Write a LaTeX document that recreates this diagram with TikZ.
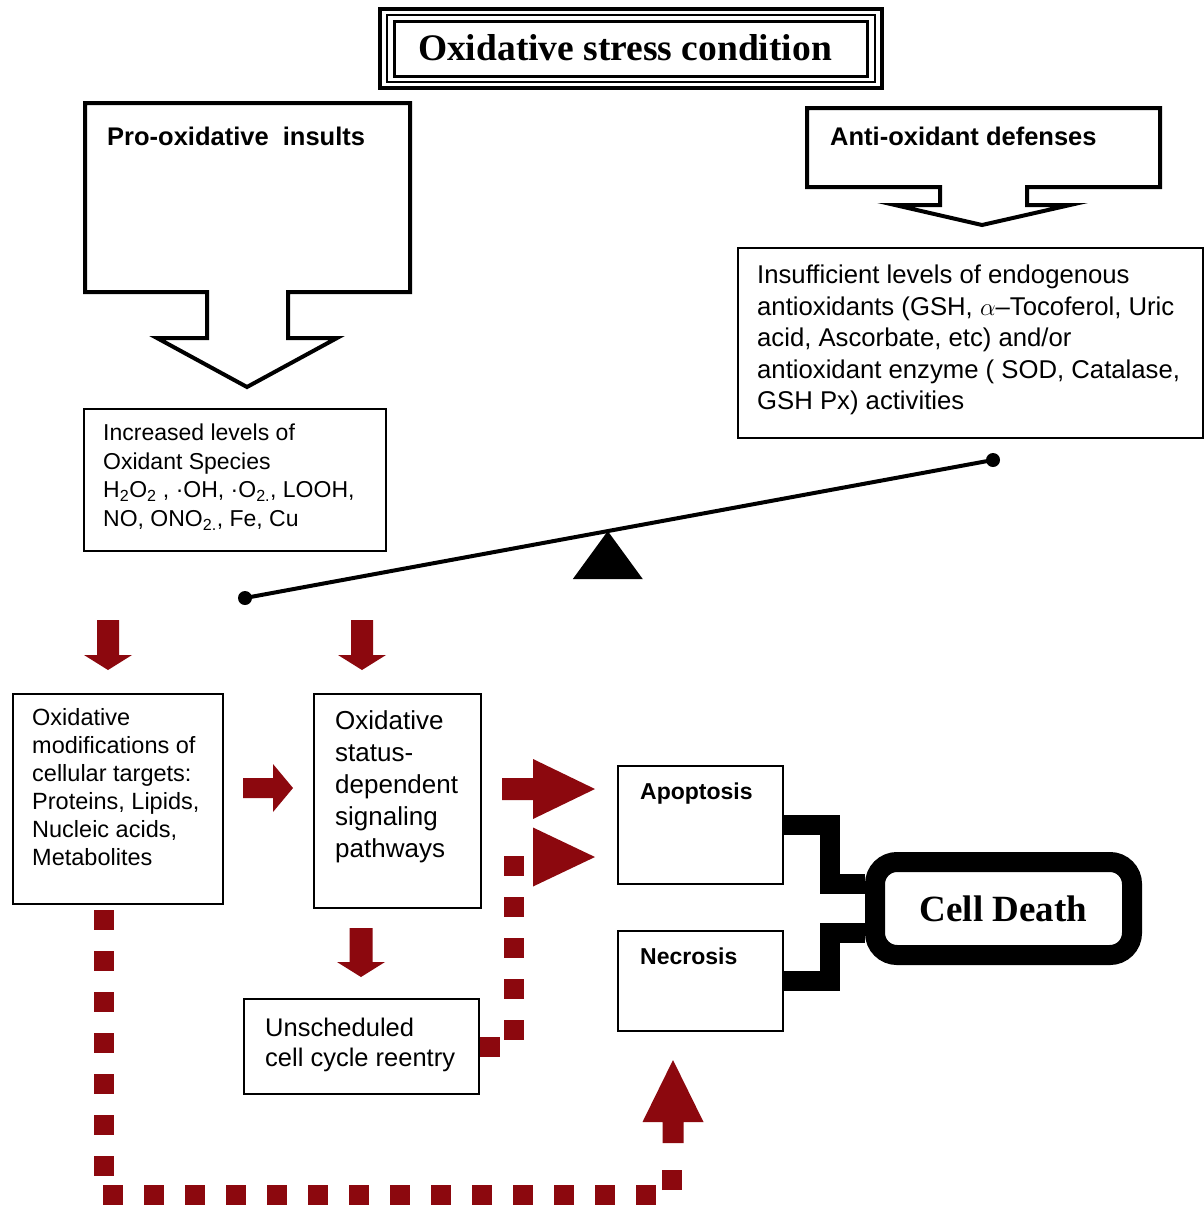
\documentclass[tikz,border=0pt]{standalone}
\usepackage{fontspec}
\setmainfont{Liberation Sans}
\newfontfamily\serifbf{Liberation Serif}
\usepackage{tikz}
\usetikzlibrary{positioning, calc}
\definecolor{arrowred}{RGB}{140,8,14}
\tikzstyle{box} = [draw, line width=2pt, rectangle, anchor=north west, inner sep=0pt]
\tikzstyle{txt} = [inner sep=0pt, anchor=north west, align=left]
\tikzstyle{callout} = [draw, line width=4pt, line join=miter]
\tikzstyle{reddash} = [draw=arrowred, line width=20pt, dash pattern=on 20pt off 21pt]
\tikzstyle{bracket} = [draw, line width=20pt]
\newcommand{\fs}[2]{\fontsize{#1}{#2}\selectfont}
% tail point, angle, length, head length, shaft half width, head half width
\newcommand{\blockarrow}[6]{%
  \fill[arrowred, shift={#1}, rotate=#2] (0,-#5) -- ({#3-#4},-#5) -- ({#3-#4},-#6)
    -- (#3,0) -- ({#3-#4},#6) -- ({#3-#4},#5) -- (0,#5) -- cycle;}

\begin{document}
\begin{tikzpicture}[x=1pt,y=-1pt,>=latex]
  \fill[white] (0,0) rectangle (1203,1205);
  \useasboundingbox (0,0) rectangle (1203,1205);

  % title
  \node[font=\serifbf\bfseries\fs{37.5}{40}] (title) at (625,48) {Oxidative stress condition};
  \draw[line width=4pt] (380,9) rectangle (882,88);
  \draw[line width=1.5pt] (387,15) rectangle (875,82);
  \draw[line width=3pt] (394,21) rectangle (867,76);

  % the two callouts
  \draw[callout] (85,103) -- (410,103) -- (410,292) -- (288,292) -- (288,338) -- (337,338)
    -- (247,387) -- (157,338) -- (207,338) -- (207,292) -- (85,292) -- cycle;
  \node[txt, font=\fs{25.5}{30}\bfseries] (pro) at (107,127) {Pro-oxidative\ \ insults};
  \draw[callout] (807,108) -- (1160,108) -- (1160,187) -- (1027,187) -- (1027,205) -- (1070,205)
    -- (982,225) -- (895,205) -- (940,205) -- (940,187) -- (807,187) -- cycle;
  \node[txt, font=\fs{25.5}{30}\bfseries] (anti) at (830,127) {Anti-oxidant defenses};

  \node[box, minimum width=302pt, minimum height=142pt] (oxidants) at (83,408) {};
  \node[txt, font=\fs{23}{28.5}] (oxidantstext) at (103,424)
    {Increased levels of\\Oxidant Species\\
     H\textsubscript{2}O\textsubscript{2} , ·OH, ·O\textsubscript{2.}, LOOH,\\
     NO, ONO\textsubscript{2.}, Fe, Cu};
  \node[box, minimum width=465pt, minimum height=190pt] (antiox) at (737,247) {};
  \node[txt, font=\fs{25.7}{31.5}] (antioxtext) at (757,265)
    {Insufficient levels of endogenous\\
     antioxidants (GSH, $\alpha$–Tocoferol, Uric\\
     acid, Ascorbate, etc) and/or\\
     antioxidant enzyme ( SOD, Catalase,\\
     GSH Px) activities};

  % balance
  \coordinate (lowend) at (245,598);
  \coordinate (highend) at (993,460);
  \coordinate (pivot) at ($(lowend)!0.485!(highend)$);
  \draw[line width=4pt] (lowend) -- (highend);
  \fill (lowend) circle (7pt);
  \fill (highend) circle (7pt);
  \fill (pivot) -- ++(35,48) -- ++(-70,0) -- cycle;

  % lower part
  \node[box, minimum width=210pt, minimum height=210pt] (mods) at (12,693) {};
  \node[txt, font=\fs{23.5}{28}] (modstext) at (32,708)
    {Oxidative\\modifications of\\cellular targets:\\Proteins, Lipids,\\Nucleic acids,\\Metabolites};
  \node[box, minimum width=167pt, minimum height=214pt] (signal) at (313,693) {};
  \node[txt, font=\fs{26}{32}] (signaltext) at (335,710)
    {Oxidative\\status-\\dependent\\signaling\\pathways};
  \node[box, minimum width=235pt, minimum height=95pt] (unsch) at (243,998) {};
  \node[txt, font=\fs{25.5}{30}] (unschtext) at (265,1018) {Unscheduled\\cell cycle reentry};
  \node[box, minimum width=165pt, minimum height=118pt] (apop) at (617,765) {};
  \node[txt, font=\fs{23}{28}\bfseries] (apoptext) at (640,783) {Apoptosis};
  \node[box, minimum width=165pt, minimum height=100pt] (necro) at (617,930) {};
  \node[txt, font=\fs{23}{28}\bfseries] (necrotext) at (640,948) {Necrosis};
  \node[draw, line width=20pt, rounded corners=22pt, minimum width=257pt, minimum height=93pt,
    font=\serifbf\bfseries\fs{37}{40}] (death) at (1003.5,908.5) {Cell Death};
  \draw[bracket] (apop.east) -- ++(46,0) |- ([yshift=25pt]death.west);
  \draw[bracket] (necro.east) -- ++(46,0) |- ([yshift=-24pt]death.west);

  % red arrows
  \blockarrow{(108,620)}{-90}{50}{15}{11}{24}
  \blockarrow{(362,620)}{-90}{50}{15}{11}{24}
  \blockarrow{(243,788)}{0}{50}{20}{10}{24}
  \blockarrow{(361,928)}{-90}{49}{15}{11.5}{24}
  \blockarrow{(502,789)}{0}{93}{62}{11}{30}
  \blockarrow{(533,857)}{0}{62}{62}{0}{29.5}
  \blockarrow{(673,1143)}{90}{83}{62}{10.5}{30.5}
  \draw[reddash] (unsch.east) -- ++(34,0) -- ++(0,-193);
  \draw[reddash] ([xshift=-14pt,yshift=-5pt]mods.south) -- ++(0,269);
  \coordinate (rowstart) at (103,1195);
  \draw[reddash] (rowstart) -| ++(569,-45);
\end{tikzpicture}
\end{document}
